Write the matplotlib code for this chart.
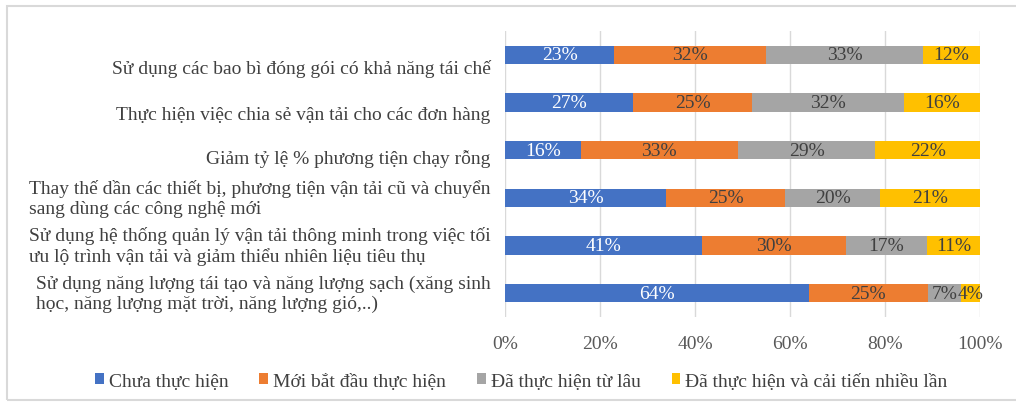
import matplotlib
matplotlib.use("Agg")
import matplotlib.pyplot as plt
from matplotlib.patches import Rectangle
import matplotlib.transforms as mtransforms
import numpy as np

plt.rcParams['font.family'] = ['Liberation Serif', 'DejaVu Serif']

categories = [
    "Sử dụng các bao bì đóng gói có khả năng tái chế",
    "Thực hiện việc chia sẻ vận tải cho các đơn hàng",
    "Giảm tỷ lệ % phương tiện chạy rỗng",
    "Thay thế dần các thiết bị, phương tiện vận tải cũ và chuyển\nsang dùng các công nghệ mới",
    "Sử dụng hệ thống quản lý vận tải thông minh trong việc tối\nưu lộ trình vận tải và giảm thiểu nhiên liệu tiêu thụ",
    "Sử dụng năng lượng tái tạo và năng lượng sạch (xăng sinh\nhọc, năng lượng mặt trời, năng lượng gió,..)",
]
series_names = ["Chưa thực hiện", "Mới bắt đầu thực hiện",
                "Đã thực hiện từ lâu", "Đã thực hiện và cải tiến nhiều lần"]
chua_thuc_hien = [23, 27, 16, 34, 41, 64]
moi_bat_dau = [32, 25, 33, 25, 30, 25]
da_thuc_hien = [33, 32, 29, 20, 17, 7]
cai_tien = [12, 16, 22, 21, 11, 4]
x_ticks = [0, 20, 40, 60, 80, 100]

colors = ["#4472C4", "#ED7D31", "#A5A5A5", "#FFC000"]
label_colors = ["white", "#404040", "#404040", "#404040"]
FS = 14

fig = plt.figure(figsize=(10.16, 4.10), dpi=100)
fig.patch.set_facecolor("white")
fig.add_artist(Rectangle((0.0065, 0.022), 1.2, 0.96, transform=fig.transFigure,
                         fill=False, edgecolor="#D9D9D9", linewidth=1.5))

ax = fig.add_axes([0.497, 0.2244, 0.4675, 0.6976])

y = np.arange(len(categories))
data = np.array([chua_thuc_hien, moi_bat_dau, da_thuc_hien, cai_tien], dtype=float)
# 100% stacked: each row is scaled to its own total
totals = data.sum(axis=0)
shares = data / totals * 100

left = np.zeros(len(categories))
for vals, share, name, c, lc in zip(data, shares, series_names, colors, label_colors):
    ax.barh(y, share, left=left, height=0.38, color=c, label=name, zorder=3)
    for yi, l, s, v in zip(y, left, share, vals):
        ax.text(l + s / 2, yi, f"{int(v)}%", ha="center", va="center",
                color=lc, fontsize=FS, zorder=4)
    left += share

ax.set_xlim(0, 100)
ax.set_ylim(len(categories) - 0.5, -0.5)
ax.set_xticks(x_ticks)
ax.set_xticklabels([f"{t}%" for t in x_ticks], fontsize=FS, color="#595959")
ax.tick_params(axis="x", length=0, pad=13)
ax.set_yticks([])
ax.grid(axis="x", color="#D9D9D9", linewidth=1, zorder=0)
for s in ax.spines.values():
    s.set_visible(False)

# Category labels: single-line labels sit slightly below the bar centre
offsets = [-13, -12, -8, 0, 0, 0]
for yi, cat, off in zip(y, categories, offsets):
    tr = ax.get_yaxis_transform() + mtransforms.ScaledTranslation(0, off / 100, fig.dpi_scale_trans)
    ax.text(-0.03, yi, cat, transform=tr, ha="right", va="center",
            multialignment="left", fontsize=FS, color="#404040", linespacing=1.2)

fig.legend(loc="center", bbox_to_anchor=(0.513, 0.068), ncol=4, frameon=False,
           fontsize=FS, handlelength=0.45, handleheight=0.45, handletextpad=0.25,
           columnspacing=1.6, labelcolor="#404040")

fig.savefig("out.png", dpi=100)
